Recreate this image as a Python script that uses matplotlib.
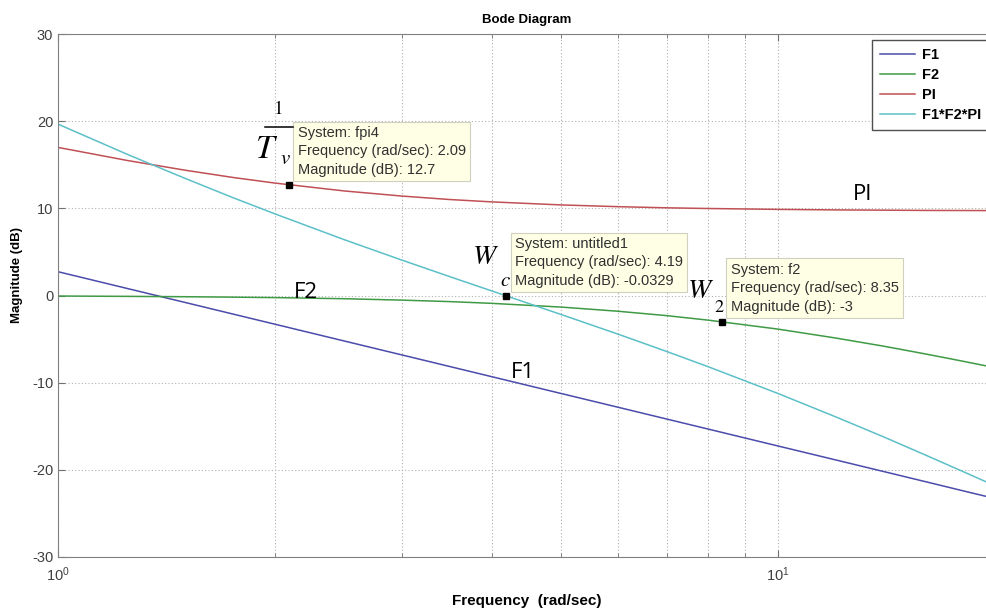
import numpy as np
import matplotlib
matplotlib.use('Agg')
import matplotlib.pyplot as plt
from matplotlib.lines import Line2D

plt.rcParams['font.family'] = 'Liberation Sans'
plt.rcParams['mathtext.fontset'] = 'stix'
plt.rcParams['axes.unicode_minus'] = False

freq = [1, 1.25, 1.5, 1.75, 2, 2.5, 3, 3.5, 4, 5, 6, 7, 8, 10, 12, 14, 16, 18, 20]
# magnitudes in dB
f1 = [2.73, 0.79, -0.79, -2.13, -3.29, -5.23, -6.81, -8.15, -9.31, -11.25, -12.83,
      -14.17, -15.33, -17.27, -18.85, -20.19, -21.35, -22.38, -23.29]
f2 = [-0.06, -0.10, -0.14, -0.19, -0.24, -0.37, -0.53, -0.70, -0.90, -1.33, -1.81,
      -2.31, -2.83, -3.86, -4.87, -5.81, -6.70, -7.52, -8.28]
pi_ = [16.99, 15.48, 14.38, 13.54, 12.90, 11.99, 11.41, 11.01, 10.74, 10.39, 10.19,
       10.06, 9.98, 9.88, 9.82, 9.79, 9.76, 9.75, 9.74]
total = [19.66, 16.17, 13.45, 11.22, 9.37, 6.39, 4.07, 2.16, 0.53, -2.19, -4.45,
         -6.42, -8.18, -11.25, -13.90, -16.21, -18.29, -20.15, -21.83]

# data tips
tip_sys = ['fpi4', 'untitled1', 'f2']
tip_freq = [2.09, 4.19, 8.35]
tip_y = [12.7, -0.0329, -3]
tip_mag = ['12.7', '-0.0329', '-3']

W, H = 987, 608
fig = plt.figure(figsize=(W/100, H/100), dpi=100)
ax = fig.add_axes([58/W, 1-557/H, (995-58)/W, (557-34)/H])


def px(x, y):
    return x/W, 1-y/H


ax.semilogx(freq, f1, color='#4b4bab', lw=1.1, label='F1')
ax.semilogx(freq, f2, color='#3f9a45', lw=1.1, label='F2')
ax.semilogx(freq, pi_, color='#c05055', lw=1.1, label='PI')
ax.semilogx(freq, total, color='#5cc0c8', lw=1.1, label='F1*F2*PI')

ax.set_xlim(1, 20)
ax.set_ylim(-30, 30)
ax.set_yticks([-30, -20, -10, 0, 10, 20, 30])
ax.grid(True, which='both', color='#b0b0b0', linestyle=(0, (1, 2)), lw=0.8)
ax.tick_params(which='both', direction='in', top=True, right=True, colors='#707070',
               labelcolor='#404040', labelsize=10.5)
ax.tick_params(which='major', length=5)
ax.tick_params(axis='x', which='major', pad=6)
ax.tick_params(which='minor', length=3, labelbottom=False)
for s in ax.spines.values():
    s.set_color('#808080')

ax.set_title('Bode Diagram', fontsize=9.5, fontweight='bold', pad=8)
ax.set_xlabel('Frequency  (rad/sec)', fontsize=11, fontweight='bold', labelpad=7)
ax.set_ylabel('Magnitude (dB)', fontsize=9.5, fontweight='bold')
ax.yaxis.set_label_coords(-0.037, 0.539)

# data tip markers and boxes
for s, f, m, y in zip(tip_sys, tip_freq, tip_mag, tip_y):
    ax.plot(f, y, 's', color='black', ms=5, zorder=5)
    txt = 'System: %s\nFrequency (rad/sec): %s\nMagnitude (dB): %s' % (s, f, m)
    ax.annotate(txt, xy=(f, y), xytext=(9, 8), textcoords='offset pixels',
                ha='left', va='bottom', fontsize=10.5, color='#303030', linespacing=1.4,
                bbox=dict(boxstyle='square,pad=0.3', fc='#ffffe6', ec='#d0d0c0', lw=0.8),
                zorder=6)

# hand-written labels
fig.text(*px(278, 109), r'$1$', fontsize=14, ha='center', va='center')
fig.add_artist(Line2D([265/W, 293/W], [1-127/H, 1-127/H], color='black', lw=1.1))
fig.text(*px(267, 149), r'$T$', fontsize=24, ha='center', va='center')
fig.text(*px(285, 158), r'$v$', fontsize=15, ha='center', va='center')
fig.text(*px(486, 257), r'$W$', fontsize=20, ha='center', va='center')
fig.text(*px(505, 281), r'$c$', fontsize=15, ha='center', va='center')
fig.text(*px(701, 291), r'$W$', fontsize=20, ha='center', va='center')
fig.text(*px(719, 307), r'$2$', fontsize=13, ha='center', va='center')
fig.text(*px(863, 194), 'PI', fontsize=16, family='Open Sans', ha='center', va='center')
fig.text(*px(306, 292), 'F2', fontsize=16, family='Open Sans', ha='center', va='center')
fig.text(*px(523, 372), 'F1', fontsize=16, family='Open Sans', ha='center', va='center')

leg = ax.legend(loc='upper left', bbox_to_anchor=px(872, 40),
                bbox_transform=fig.transFigure, borderaxespad=0, fancybox=False,
                framealpha=1, edgecolor='#505050', prop={'weight': 'bold', 'size': 10.5},
                handlelength=2.4, handletextpad=0.48, labelspacing=0.42, borderpad=0.55)
leg.get_frame().set_linewidth(1.0)

plt.savefig('out.png', dpi=100)
